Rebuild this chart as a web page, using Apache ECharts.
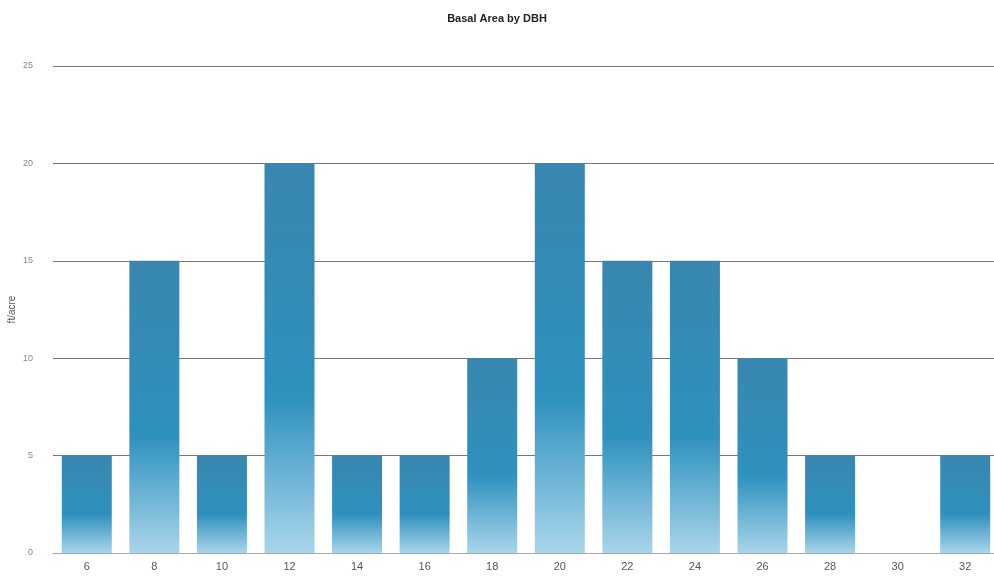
<!DOCTYPE html>
<html><head><meta charset="utf-8">
<script src="https://cdn.jsdelivr.net/npm/echarts@6/dist/echarts.min.js"></script>
<style>html,body{margin:0;padding:0;background:#fff}#c{width:994px;height:585px}</style>
</head><body><div id="c"></div>
<script>
const title = "Basal Area by DBH";
const yName = "ft/acre";
const categories = ["6","8","10","12","14","16","18","20","22","24","26","28","30","32"];
const values = [5,15,5,20,5,5,10,20,15,15,10,5,0,5];
const yTicks = [0,5,10,15,20,25];

const chart = echarts.init(document.getElementById('c'), null, {renderer:'canvas'});
chart.setOption({
  animation:false,
  backgroundColor:'#fff',
  title:{text:title,left:'center',top:8,textStyle:{fontFamily:'Liberation Sans',fontSize:11,fontWeight:'bold',color:'#222'}},
  grid:{left:53,right:-5,top:66,bottom:32,containLabel:false,outerBoundsMode:'none'},
  xAxis:{type:'category',data:categories,
    axisLine:{show:true,lineStyle:{color:'#aaa'}},axisTick:{show:false},
    axisLabel:{color:'#555',fontFamily:'Liberation Sans',fontSize:11,margin:8}},
  yAxis:{type:'value',min:yTicks[0],max:yTicks[yTicks.length-1],interval:5,
    name:yName,nameLocation:'middle',nameGap:36,nameRotate:90,nameMoveOverlap:false,
    nameTextStyle:{color:'#555',fontFamily:'Liberation Sans',fontSize:10},
    axisLine:{show:false},axisTick:{show:false},
    axisLabel:{color:'#888',fontFamily:'Liberation Sans',fontSize:9,margin:20},
    splitLine:{lineStyle:{color:'#777',width:1}}},
  series:[{type:'bar',data:values,barWidth:50,
    itemStyle:{color:new echarts.graphic.LinearGradient(0,0,0,1,[
      {offset:0,color:'#3987b0'},{offset:0.6,color:'#2e91be'},{offset:1,color:'#a9d5ea'}])}}]
});
</script></body></html>
